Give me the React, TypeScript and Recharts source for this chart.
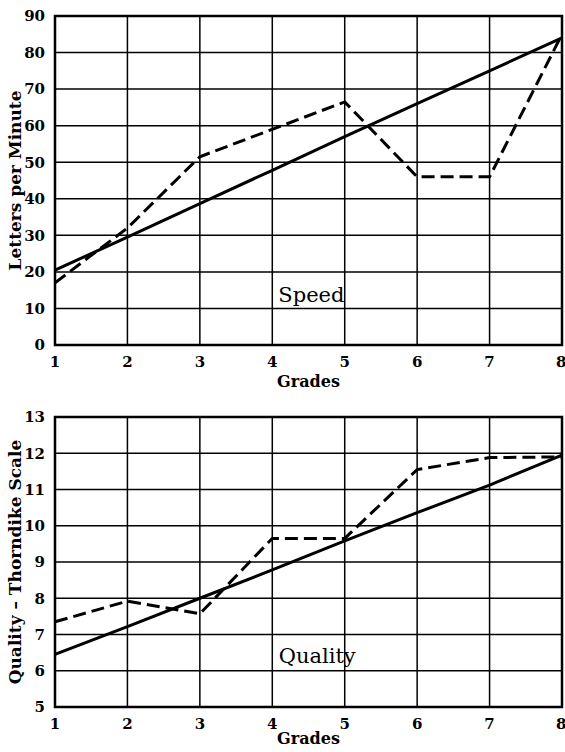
import {
  LineChart,
  Line,
  CartesianGrid,
  XAxis,
  YAxis,
  ReferenceArea,
  ReferenceDot,
} from "recharts";

const grades = [1, 2, 3, 4, 5, 6, 7, 8];

// speed, letters per minute
const speedTrend = [20.5, 29.5, 38.7, 47.8, 57, 66, 75, 84];
const speedActual = [17, 32, 51.5, 59, 66.5, 46, 46, 85];
const speedTicks = [0, 10, 20, 30, 40, 50, 60, 70, 80, 90];

// quality, Thorndike scale
const qualityTrend = [6.45, 7.22, 8.0, 8.78, 9.58, 10.36, 11.12, 11.95];
const qualityActual = [7.35, 7.92, 7.57, 9.65, 9.65, 11.55, 11.88, 11.9];
const qualityTicks = [5, 6, 7, 8, 9, 10, 11, 12, 13];

const speedData = grades.map((g, i) => ({
  grade: g,
  trend: speedTrend[i],
  actual: speedActual[i],
}));
const qualityData = grades.map((g, i) => ({
  grade: g,
  trend: qualityTrend[i],
  actual: qualityActual[i],
}));

const font = "'DejaVu Serif', serif";
const tickStyle = { fontFamily: font, fontSize: 15, fontWeight: "bold", fill: "#000" };
const titleStyle = { fontFamily: font, fontSize: 16, fontWeight: "bold", fill: "#000" };

const Panel = ({
  data,
  ticks,
  yTitle,
  name,
  nameAt,
  top,
  height,
  marginTop,
  xAxisHeight,
}: any) => (
  <div style={{ position: "absolute", left: 0, top }}>
    <LineChart
      width={565}
      height={height}
      data={data}
      margin={{ top: marginTop, right: 3, bottom: 0, left: 0 }}
    >
      <CartesianGrid stroke="#000" strokeWidth={1.5} strokeOpacity={1} />
      <XAxis
        dataKey="grade"
        type="number"
        domain={[1, 8]}
        ticks={grades}
        axisLine={false}
        tickLine={false}
        tickMargin={5}
        height={xAxisHeight}
        tick={tickStyle}
        label={{ value: "Grades", position: "insideBottom", offset: 8, style: titleStyle }}
      />
      <YAxis
        type="number"
        domain={[ticks[0], ticks[ticks.length - 1]]}
        ticks={ticks}
        axisLine={false}
        tickLine={false}
        tickMargin={4}
        width={55}
        tick={tickStyle}
        label={{
          value: yTitle,
          angle: -90,
          position: "insideLeft",
          offset: 15,
          style: { ...titleStyle, fontSize: 17, textAnchor: "middle" },
        }}
      />
      <ReferenceArea
        x1={1}
        x2={8}
        y1={ticks[0]}
        y2={ticks[ticks.length - 1]}
        fill="none"
        stroke="#000"
        strokeWidth={2.5}
      />
      <ReferenceDot
        x={nameAt[0]}
        y={nameAt[1]}
        r={0}
        fill="none"
        stroke="none"
        label={{
          value: name,
          position: "center",
          style: { fontFamily: font, fontSize: 21, fill: "#000" },
        }}
      />
      <Line
        type="linear"
        dataKey="trend"
        stroke="#000"
        strokeWidth={3}
        dot={false}
        isAnimationActive={false}
      />
      <Line
        type="linear"
        dataKey="actual"
        stroke="#000"
        strokeWidth={3}
        strokeDasharray="13 6"
        dot={false}
        isAnimationActive={false}
      />
    </LineChart>
  </div>
);

export default function App() {
  return (
    <div style={{ position: "absolute", left: 0, top: 0, width: 565, height: 752, background: "#fff" }}>
      <Panel
        data={speedData}
        ticks={speedTicks}
        yTitle="Letters per Minute"
        name="Speed"
        nameAt={[4.54, 13.7]}
        top={0}
        height={395}
        marginTop={16}
        xAxisHeight={50}
      />
      <Panel
        data={qualityData}
        ticks={qualityTicks}
        yTitle="Quality – Thorndike Scale"
        name="Quality"
        nameAt={[4.62, 6.41]}
        top={395}
        height={357}
        marginTop={22}
        xAxisHeight={45}
      />
    </div>
  );
}
